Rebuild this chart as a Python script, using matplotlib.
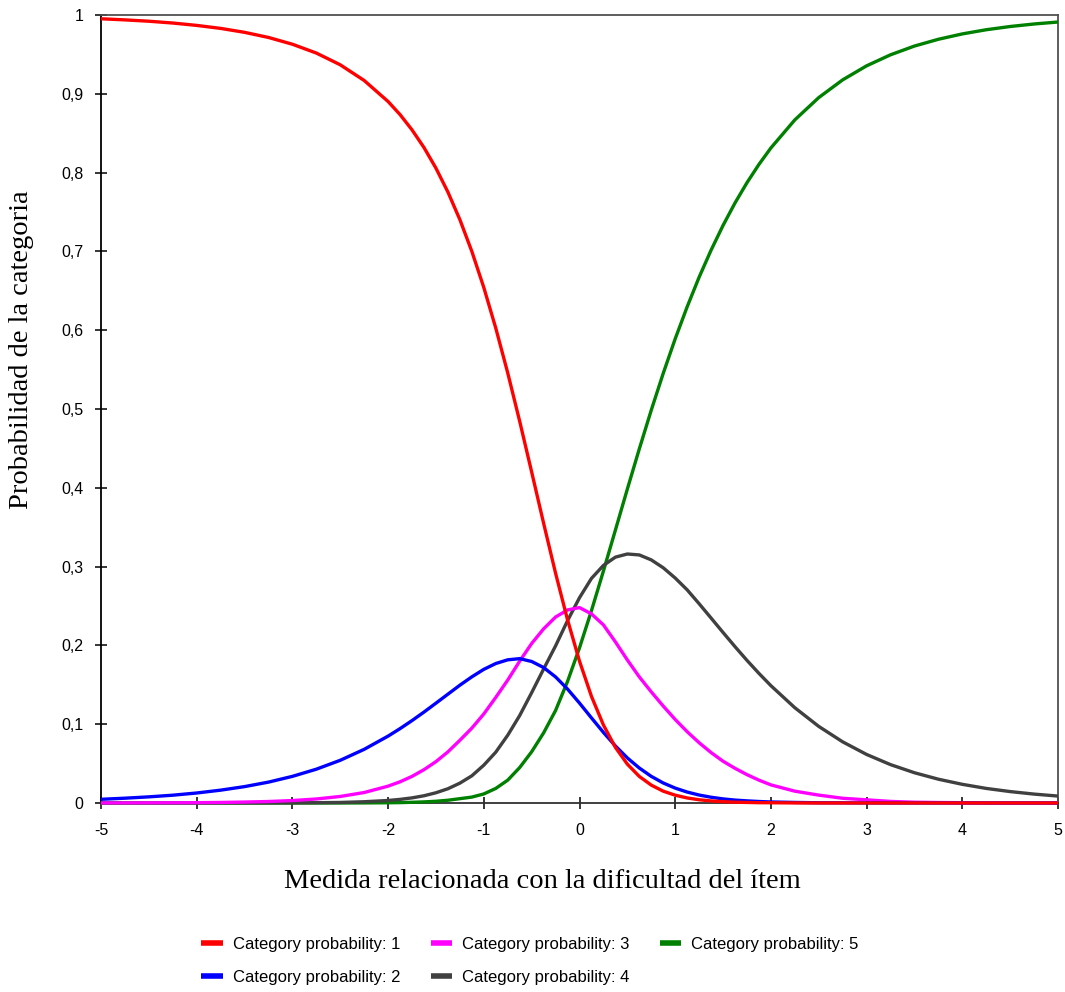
import numpy as np
import matplotlib
matplotlib.use("Agg")
import matplotlib.pyplot as plt

# measure (logits): 0.25 steps on the tails, 0.125 steps in the middle
x = np.concatenate([np.arange(-5, -2.1, 0.25),
                    np.arange(-2, 2.01, 0.125),
                    np.arange(2.25, 5.01, 0.25)])

cat1 = [0.9952, 0.9938, 0.9921, 0.9898, 0.9868, 0.9830, 0.9780, 0.9715, 0.9629, 0.9517, 0.9368, 0.9169,
        0.8902, 0.8736, 0.8542, 0.8318, 0.8056, 0.7753, 0.7403, 0.7000, 0.6542, 0.6027, 0.5458,
        0.4844, 0.4201, 0.3550, 0.2916, 0.2325, 0.1800, 0.1353, 0.0990, 0.0706, 0.0493, 0.0337,
        0.0227, 0.0150, 0.0099, 0.0064, 0.0041, 0.0026, 0.0017, 0.0010, 0.0007, 0.0004, 0.0003,
        0.0001, 0.0, 0.0, 0.0, 0.0, 0.0, 0.0, 0.0, 0.0, 0.0, 0.0, 0.0]
cat2 = [0.0047, 0.0061, 0.0078, 0.0099, 0.0127, 0.0163, 0.0208, 0.0265, 0.0338, 0.0429, 0.0542, 0.0681,
        0.0849, 0.0944, 0.1046, 0.1154, 0.1267, 0.1381, 0.1495, 0.1601, 0.1696, 0.1770, 0.1817,
        0.1832, 0.1796, 0.1719, 0.1600, 0.1446, 0.1268, 0.1080, 0.0896, 0.0724, 0.0572, 0.0444,
        0.0338, 0.0254, 0.0189, 0.0139, 0.0101, 0.0073, 0.0052, 0.0037, 0.0027, 0.0019, 0.0013,
        0.0007, 0.0003, 0.0002, 0.0001, 0.0, 0.0, 0.0, 0.0, 0.0, 0.0, 0.0, 0.0]
cat3 = [0.0001, 0.0001, 0.0002, 0.0003, 0.0004, 0.0007, 0.0012, 0.0019, 0.0031, 0.0051, 0.0083, 0.0133,
        0.0214, 0.0269, 0.0338, 0.0423, 0.0525, 0.0649, 0.0796, 0.0950, 0.1130, 0.1340, 0.1560,
        0.1800, 0.2024, 0.2210, 0.2360, 0.2450, 0.2480, 0.2400, 0.2260, 0.2045, 0.1815, 0.1600,
        0.1410, 0.1230, 0.1060, 0.0905, 0.0765, 0.0640, 0.0530, 0.0440, 0.0360, 0.0290, 0.0230,
        0.0150, 0.0100, 0.0060, 0.0040, 0.0020, 0.0010, 0.0006, 0.0004, 0.0002, 0.0001, 0.0001, 0.0]
cat4 = [0.0, 0.0, 0.0, 0.0, 0.0, 0.0, 0.0, 0.0001, 0.0002, 0.0004, 0.0007, 0.0016,
        0.0032, 0.0046, 0.0065, 0.0092, 0.0130, 0.0181, 0.0252, 0.0345, 0.0480, 0.0645, 0.0860,
        0.1110, 0.1400, 0.1700, 0.1994, 0.2314, 0.2605, 0.2850, 0.3015, 0.3120, 0.3160, 0.3148,
        0.3085, 0.2985, 0.2855, 0.2705, 0.2529, 0.2347, 0.2164, 0.1984, 0.1810, 0.1645, 0.1489,
        0.1209, 0.0972, 0.0776, 0.0616, 0.0487, 0.0384, 0.0302, 0.0237, 0.0185, 0.0145, 0.0113, 0.0088]
cat5 = [0.0, 0.0, 0.0, 0.0, 0.0, 0.0, 0.0, 0.0, 0.0, 0.0, 0.0, 0.0001,
        0.0003, 0.0005, 0.0009, 0.0014, 0.0022, 0.0035, 0.0055, 0.0075, 0.0115, 0.0185, 0.0290,
        0.0450, 0.0650, 0.0890, 0.1174, 0.1543, 0.1969, 0.2441, 0.2944, 0.3463, 0.3984, 0.4494,
        0.4986, 0.5453, 0.5891, 0.6297, 0.6673, 0.7016, 0.7330, 0.7615, 0.7872, 0.8104, 0.8313,
        0.8669, 0.8952, 0.9177, 0.9355, 0.9495, 0.9606, 0.9692, 0.9760, 0.9813, 0.9854, 0.9886, 0.9911]

labels = ["Category probability: 1", "Category probability: 2", "Category probability: 3",
          "Category probability: 4", "Category probability: 5"]
colors = ["#ff0000", "#0000ff", "#ff00ff", "#404040", "#008000"]
zorders = [7, 6, 5, 4, 3]

yticks = [0, 0.1, 0.2, 0.3, 0.4, 0.5, 0.6, 0.7, 0.8, 0.9, 1]
ytick_labels = ["0", "0,1", "0,2", "0,3", "0,4", "0,5", "0,6", "0,7", "0,8", "0,9", "1"]
xticks = [-5, -4, -3, -2, -1, 0, 1, 2, 3, 4, 5]

fig = plt.figure(figsize=(10.65, 9.92), dpi=100)
ax = fig.add_axes([101 / 1065, 1 - 803 / 992, 957 / 1065, 788 / 992])

for ys, lab, c, z in zip([cat1, cat2, cat3, cat4, cat5], labels, colors, zorders):
    ax.plot(x, ys, color=c, lw=2.4, label=lab, zorder=z, clip_on=False,
            solid_capstyle="butt", solid_joinstyle="round")

ax.set_xlim(-5, 5)
ax.set_ylim(0, 1)
ax.set_xticks(xticks)
ax.set_xticklabels([str(t) for t in xticks])
ax.set_yticks(yticks)
ax.set_yticklabels(ytick_labels)
ax.tick_params(direction="inout", length=9, width=1.1, labelsize=11.5,
               colors="black")
ax.tick_params(axis="y", pad=8)
ax.tick_params(axis="x", pad=10)
for lbl in ax.get_xticklabels() + ax.get_yticklabels():
    lbl.set_family("Liberation Sans")

ax.spines["left"].set_color("black")
ax.spines["bottom"].set_color("#303030")
ax.spines["top"].set_color("#505050")
ax.spines["right"].set_color("#505050")
for s in ax.spines.values():
    s.set_linewidth(1.3)

fig.text(542 / 1065, 1 - 882 / 992, "Medida relacionada con la dificultad del ítem",
         family="Liberation Serif", fontsize=20.5, ha="center", va="center")
fig.text(22 / 1065, 1 - 350 / 992, "Probabilidad de la categoria",
         family="Liberation Serif", fontsize=20.5, ha="center", va="center", rotation=90)

handles, labs = ax.get_legend_handles_labels()
leg = fig.legend(handles, labs, loc="center", bbox_to_anchor=(530 / 1065, 1 - 961 / 992),
                 ncol=3, frameon=False, prop={"family": "Liberation Sans", "size": 12},
                 handlelength=1.3, handletextpad=0.6, columnspacing=1.8, labelspacing=1.05)
for h in leg.get_lines():
    h.set_linewidth(4)

fig.savefig("out.png", dpi=100)
